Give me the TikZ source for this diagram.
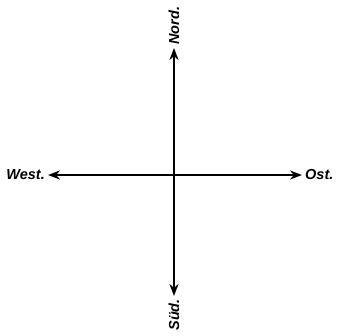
\documentclass[tikz,border=0pt]{standalone}
\usepackage{fontspec}
\setmainfont{Liberation Sans}
\usetikzlibrary{arrows.meta,positioning}

\begin{document}
\begin{tikzpicture}[x=1pt,y=-1pt,>={Stealth[length=12pt,width=9pt]},
  axis/.style={->,line width=2pt},
  every node/.style={font=\fontsize{14.5}{14.5}\selectfont\bfseries\itshape,inner sep=0pt}]
\useasboundingbox (0,0) rectangle (337,336);
\coordinate (c) at (174,175);
\coordinate (n) at (174,48); \coordinate (s) at (174,296);
\coordinate (w) at (48,175); \coordinate (o) at (302,175);
\node[rotate=90,anchor=west] (nord) at (174,45) {Nord.};
\node[rotate=90,anchor=east] (sued) at (174,299) {Süd.};
\node[anchor=east] (west) at (45,175) {West.};
\node[anchor=west] (ost) at (305,175) {Ost.};
\draw[axis](c)--(n); \draw[axis](c)--(s); \draw[axis](c)--(w); \draw[axis](c)--(o);
\end{tikzpicture}
\end{document}
